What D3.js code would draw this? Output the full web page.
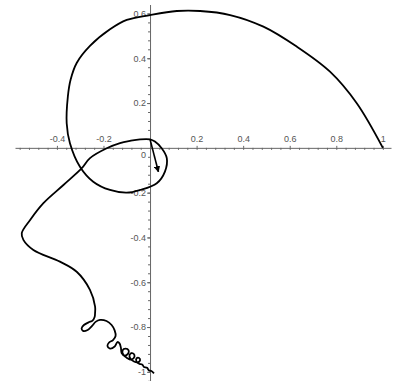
<!DOCTYPE html>
<html>
<head>
<meta charset="utf-8">
<script src="https://cdn.jsdelivr.net/npm/d3@7"></script>
<style>
    html, body { margin: 0; padding: 0; background: #fff; }
    svg { display: block; }
    .tick text { font-family: "Liberation Sans", Arial, sans-serif; font-size: 9px; fill: #555; }
</style>
</head>
<body>
<script>
// curve points, [x, y]
var curveX = [
    1.0, 0.888, 0.773, 0.630, 0.487, 0.344, 0.215, 0.115, 0, -0.100,
    -0.172, -0.258, -0.315, -0.341, -0.353, -0.358, -0.344, -0.301, -0.244, -0.172,
    -0.100, -0.043, 0.029, 0.064, 0.072, 0.050, 0.021, 0, -0.043, -0.086,
    -0.129, -0.186, -0.258, -0.293, -0.372, -0.458, -0.515, -0.551, -0.544, -0.501,
    -0.387, -0.315, -0.258, -0.236, -0.236,
    -0.238, -0.247, -0.264, -0.284, -0.294, -0.288, -0.268, -0.249, -0.234, -0.215,
    -0.187, -0.165, -0.152, -0.148, -0.159, -0.176, -0.183, -0.172, -0.152, -0.140,
    -0.131, -0.125, -0.122, -0.110, -0.095, -0.092, -0.105, -0.118, -0.114, -0.099,
    -0.086, -0.071, -0.067, -0.077, -0.088, -0.084, -0.069, -0.054, -0.043, -0.047,
    -0.058, -0.058, -0.045, -0.034, -0.026, -0.013, -0.004, 0.006, 0.017
];
var curveY = [
    0, 0.199, 0.340, 0.452, 0.541, 0.593, 0.611, 0.611, 0.593, 0.571,
    0.529, 0.455, 0.379, 0.305, 0.229, 0.110, 0.021, -0.084, -0.151, -0.188,
    -0.200, -0.188, -0.158, -0.106, -0.046, -0.002, 0.028, 0.038, 0.038, 0.031,
    0.021, -0.002, -0.046, -0.091, -0.166, -0.247, -0.322, -0.381, -0.411, -0.456,
    -0.508, -0.553, -0.634, -0.709, -0.735,
    -0.755, -0.771, -0.779, -0.791, -0.806, -0.817, -0.813, -0.795, -0.777, -0.768,
    -0.773, -0.791, -0.815, -0.840, -0.858, -0.869, -0.884, -0.896, -0.887, -0.867,
    -0.873, -0.893, -0.916, -0.927, -0.920, -0.904, -0.896, -0.904, -0.925, -0.938,
    -0.945, -0.940, -0.925, -0.916, -0.925, -0.942, -0.954, -0.958, -0.949, -0.938,
    -0.940, -0.954, -0.965, -0.967, -0.978, -0.982, -0.994, -0.996, -1.007
];
// arrow near the origin: start, end
var arrowX = [0, 0.036];
var arrowY = [0.038, -0.107];

var xTicks = [-0.4, -0.2, 0.2, 0.4, 0.6, 0.8, 1];
var yTicks = [0.6, 0.4, 0.2, -0.2, -0.4, -0.6, -0.8, -1];

var width = 393,
    height = 381;

var x = d3.scaleLinear().domain([-0.58, 1.035]).range([15, 391]);
var y = d3.scaleLinear().domain([0.64, -1.04]).range([4.5, 380.8]);

var svg = d3.select("body").append("svg")
    .attr("width", width)
    .attr("height", height);

svg.append("defs").append("marker")
    .attr("id", "head")
    .attr("viewBox", "0 0 10 10")
    .attr("refX", 9)
    .attr("refY", 5)
    .attr("markerWidth", 4)
    .attr("markerHeight", 4)
    .attr("orient", "auto")
    .append("path")
    .attr("d", "M0,0L10,5L0,10z")
    .attr("fill", "#000");

var minorX = d3.range(-0.56, 1.04, 0.04).filter(function (d) { return Math.abs(d) > 1e-6; }),
    minorY = d3.range(-1.04, 0.64, 0.04).filter(function (d) { return Math.abs(d) > 1e-6; });

var fmt = function (d) { return String(+d.toFixed(2)); };

// x axis: minor ticks below, labels above
svg.append("g")
    .attr("transform", "translate(0," + y(0) + ")")
    .call(d3.axisBottom(x).tickValues(minorX).tickSizeInner(2).tickSizeOuter(0).tickFormat(""))
    .call(function (g) { g.selectAll("line, path").attr("stroke", "#666"); });
svg.append("g")
    .attr("transform", "translate(0," + y(0) + ")")
    .call(d3.axisTop(x).tickValues(xTicks).tickSizeInner(2).tickSizeOuter(0).tickPadding(4).tickFormat(fmt))
    .call(function (g) {
        g.select(".domain").remove();
        g.selectAll("line").attr("stroke", "#666");
    });

// y axis: ticks and labels to the left
svg.append("g")
    .attr("transform", "translate(" + x(0) + ",0)")
    .call(d3.axisLeft(y).tickValues(minorY).tickSizeInner(2).tickSizeOuter(0).tickFormat(""))
    .call(function (g) { g.selectAll("line, path").attr("stroke", "#666"); });
svg.append("g")
    .attr("transform", "translate(" + x(0) + ",0)")
    .call(d3.axisLeft(y).tickValues(yTicks).tickSizeInner(3).tickSizeOuter(0).tickPadding(1).tickFormat(fmt))
    .call(function (g) {
        g.select(".domain").remove();
        g.selectAll("line").attr("stroke", "#666");
    });

svg.append("text")
    .attr("x", x(0) - 4)
    .attr("y", y(0) + 10)
    .attr("text-anchor", "end")
    .attr("font-family", "Liberation Sans, Arial, sans-serif")
    .attr("font-size", 9)
    .attr("fill", "#555")
    .text("0");

var line = d3.line()
    .x(function (i) { return x(curveX[i]); })
    .y(function (i) { return y(curveY[i]); })
    .curve(d3.curveCatmullRom.alpha(0.5));

svg.append("path")
    .attr("d", line(d3.range(curveX.length)))
    .attr("fill", "none")
    .attr("stroke", "#000")
    .attr("stroke-width", 1.8)
    .attr("stroke-linejoin", "round");

svg.append("line")
    .attr("x1", x(arrowX[0])).attr("y1", y(arrowY[0]))
    .attr("x2", x(arrowX[1])).attr("y2", y(arrowY[1]))
    .attr("stroke", "#000")
    .attr("stroke-width", 1.6)
    .attr("marker-end", "url(#head)");
</script>
</body>
</html>
